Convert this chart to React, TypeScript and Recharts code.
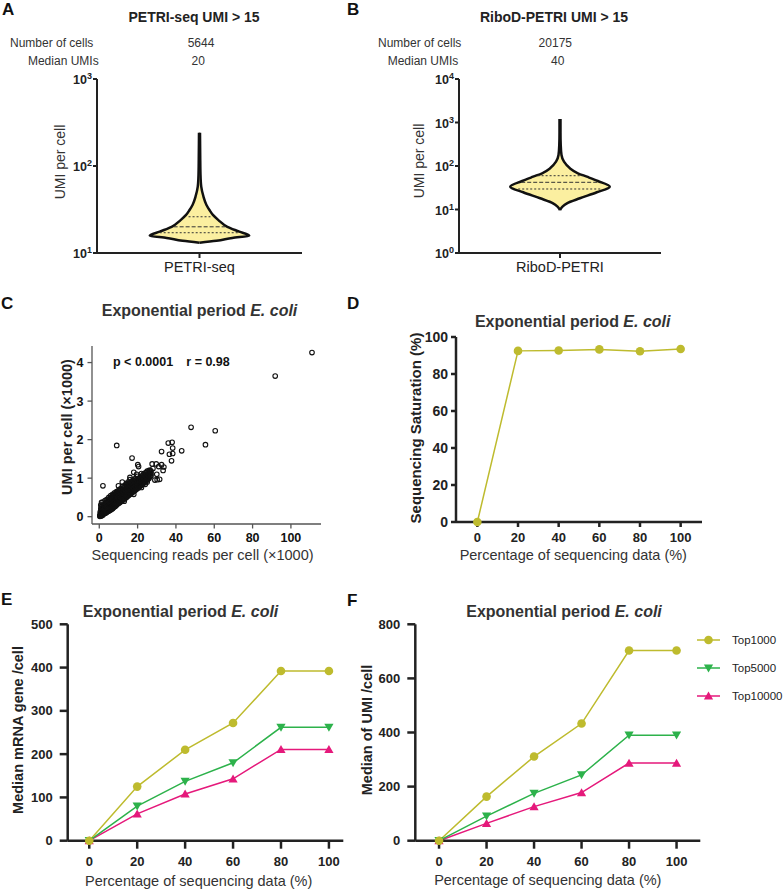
// App.tsx
// Six-panel figure: violins (A, B), scatter (C), saturation curve (D),
// gene / UMI medians vs subsampling (E, F)

import React from "react";
import {
  ComposedChart, Area, XAxis, YAxis, ReferenceLine,
  ScatterChart, Scatter, LineChart, Line, Legend,
} from "recharts";

const FONT = "'Liberation Sans', Arial, Helvetica, sans-serif";
const OLIVE = "#BEBB2E";
const GREEN = "#2DB24B";
const PINK = "#E5197B";
const VIOLIN_FILL = "#FBEFA0";

// ---- A: PETRI-seq violin (UMI per cell, relative density) ----
const petriUmi = [13.1, 13.8, 14.9, 15.8, 17.6, 20, 23.9, 27.4, 31.2, 35.6, 44.4, 57.8, 80, 120, 180, 241];
const petriDensity = [0, 0.34, 0.66, 1.0, 0.8, 0.56, 0.38, 0.27, 0.2, 0.14, 0.08, 0.035, 0.02, 0.015, 0.012, 0.01];
const petriQuartiles = [17.1, 20, 26.1];
const petriQuartileWidth = [0.8, 0.52, 0.22];

// ---- B: RiboD-PETRI violin ----
const ribodUmi = [9.7, 11.6, 13.9, 18.1, 24.9, 33.4, 45.2, 56.8, 68, 88.5, 125.6, 179, 300, 600, 1203];
const ribodDensity = [0, 0.05, 0.14, 0.4, 0.74, 1.0, 0.76, 0.54, 0.36, 0.2, 0.08, 0.03, 0.015, 0.01, 0.01];
const ribodQuartiles = [29.6, 42.2, 59.8];
const ribodQuartileWidth = [0.84, 0.78, 0.45];
const quartileDash = ["2 2", "4 2", "2 2"];

// ---- C: reads vs UMI per cell (both x1000) ----
const readsVsUmi: [number, number][] = [
  [0.3, 0.01], [0.3, 0.03], [0.6, 0.02], [0.6, 0.05], [0.6, 0.08], [0.5, 0.12], [0.8, 0.2], [0.8, 0.3],
  [1, 0.02], [1, 0.06], [1, 0.1], [1, 0.14], [1, 0.25], [1.2, 0.37],
  [1.25, 0.05], [1.25, 0.11], [1.5, 0.04], [1.5, 0.08], [1.5, 0.12], [1.5, 0.18], [1.5, 0.3],
  [1.75, 0.07], [1.75, 0.15], [1.75, 0.23],
  [2, 0.05], [2, 0.1], [2, 0.14], [2, 0.2], [2, 0.27], [2, 0.38],
  [2.25, 0.09], [2.25, 0.16], [2.25, 0.25],
  [2.5, 0.08], [2.5, 0.12], [2.5, 0.17], [2.5, 0.22], [2.5, 0.3],
  [2.75, 0.1], [2.75, 0.2], [2.75, 0.28],
  [3, 0.09], [3, 0.13], [3, 0.18], [3, 0.24], [3, 0.33], [3, 0.42],
  [3.25, 0.12], [3.25, 0.22], [3.25, 0.36],
  [3.5, 0.1], [3.5, 0.15], [3.5, 0.2], [3.5, 0.26], [3.5, 0.31],
  [3.75, 0.13], [3.75, 0.24], [3.75, 0.33],
  [4, 0.12], [4, 0.17], [4, 0.22], [4, 0.28], [4, 0.35], [4, 0.45],
  [4.25, 0.15], [4.25, 0.26], [4.25, 0.4],
  [4.5, 0.14], [4.5, 0.19], [4.5, 0.24], [4.5, 0.3], [4.5, 0.37],
  [4.75, 0.17], [4.75, 0.27], [4.75, 0.43],
  [5, 0.15], [5, 0.2], [5, 0.26], [5, 0.32], [5, 0.4], [5, 0.5],
  [5.25, 0.18], [5.25, 0.3], [5.25, 0.45],
  [5.5, 0.17], [5.5, 0.22], [5.5, 0.28], [5.5, 0.34], [5.5, 0.41],
  [5.75, 0.2], [5.75, 0.31], [5.75, 0.48],
  [6, 0.18], [6, 0.24], [6, 0.3], [6, 0.36], [6, 0.43], [6, 0.55],
  [6.25, 0.21], [6.25, 0.34], [6.25, 0.5],
  [6.5, 0.2], [6.5, 0.26], [6.5, 0.32], [6.5, 0.38], [6.5, 0.46],
  [6.75, 0.23], [6.75, 0.36], [6.75, 0.52],
  [7, 0.21], [7, 0.28], [7, 0.34], [7, 0.4], [7, 0.48], [7, 0.58],
  [7.25, 0.25], [7.25, 0.38], [7.25, 0.54],
  [7.5, 0.24], [7.5, 0.3], [7.5, 0.36], [7.5, 0.42], [7.5, 0.5],
  [7.75, 0.27], [7.75, 0.4], [7.75, 0.57],
  [8, 0.26], [8, 0.32], [8, 0.38], [8, 0.45], [8, 0.52], [8, 0.62],
  [8.25, 0.29], [8.25, 0.43], [8.25, 0.58],
  [8.5, 0.28], [8.5, 0.34], [8.5, 0.4], [8.5, 0.47], [8.5, 0.55],
  [8.75, 0.31], [8.75, 0.45], [8.75, 0.61],
  [9, 0.3], [9, 0.36], [9, 0.42], [9, 0.49], [9, 0.57], [9, 0.65],
  [9.25, 0.33], [9.25, 0.47], [9.25, 0.63],
  [9.5, 0.33], [9.5, 0.39], [9.5, 0.45], [9.5, 0.51], [9.5, 0.59],
  [9.75, 0.35], [9.75, 0.49], [9.75, 0.64],
  [10, 0.35], [10, 0.41], [10, 0.47], [10, 0.53], [10, 0.6], [10, 0.68],
  [10.5, 0.36], [10.5, 0.45], [10.5, 0.55], [10.5, 0.66],
  [11, 0.38], [11, 0.44], [11, 0.5], [11, 0.56], [11, 0.63], [11, 0.72],
  [11.5, 0.4], [11.5, 0.5], [11.5, 0.6], [11.5, 0.7],
  [12, 0.42], [12, 0.48], [12, 0.54], [12, 0.6], [12, 0.67], [12, 0.78],
  [12.5, 0.44], [12.5, 0.55], [12.5, 0.65], [12.5, 0.74],
  [13, 0.46], [13, 0.52], [13, 0.58], [13, 0.64], [13, 0.71], [13, 0.8],
  [13.5, 0.48], [13.5, 0.59], [13.5, 0.69], [13.5, 0.78],
  [14, 0.5], [14, 0.56], [14, 0.62], [14, 0.68], [14, 0.75], [14, 0.85],
  [14.5, 0.52], [14.5, 0.63], [14.5, 0.73], [14.5, 0.83],
  [15, 0.54], [15, 0.6], [15, 0.66], [15, 0.72], [15, 0.8], [15, 0.9],
  [15.5, 0.56], [15.5, 0.67], [15.5, 0.77], [15.5, 0.87],
  [16, 0.58], [16, 0.64], [16, 0.7], [16, 0.76], [16, 0.84], [16, 0.96],
  [16.5, 0.6], [16.5, 0.7], [16.5, 0.8], [16.5, 0.9],
  [17, 0.62], [17, 0.68], [17, 0.74], [17, 0.8], [17, 0.88],
  [17.5, 0.64], [17.5, 0.74], [17.5, 0.84], [17.5, 0.94],
  [18, 0.66], [18, 0.72], [18, 0.78], [18, 0.85], [18, 0.93],
  [18.5, 0.68], [18.5, 0.78], [18.5, 0.88], [18.5, 0.98],
  [19, 0.7], [19, 0.76], [19, 0.82], [19, 0.9], [19, 0.98],
  [19.5, 0.72], [19.5, 0.82], [19.5, 0.92],
  [20, 0.74], [20, 0.8], [20, 0.87], [20, 0.95], [20, 1.05],
  [20.5, 0.76], [20.5, 0.86], [20.5, 0.98],
  [21, 0.78], [21, 0.85], [21, 0.92], [21, 1.0],
  [21.5, 0.8], [21.5, 0.9], [21.5, 1.02],
  [22, 0.82], [22, 0.9], [22, 0.97], [22, 1.05], [22, 1.12],
  [22.5, 0.85], [22.5, 0.95], [22.5, 1.06],
  [23, 0.86], [23, 0.94], [23, 1.02], [23, 1.1],
  [23.5, 0.9], [23.5, 1.0], [23.5, 1.1],
  [24, 0.9], [24, 0.98], [24, 1.06], [24, 1.14],
  [24.5, 0.94], [24.5, 1.04], [24.5, 1.14],
  [25, 0.95], [25, 1.02], [25, 1.1], [25, 1.18],
  [25.5, 0.98], [25.5, 1.08], [25.5, 1.16],
  [26, 1.0], [26, 1.08], [26, 1.14], [26, 1.2],
  [26.5, 1.04], [26.5, 1.12], [26.5, 1.2],
  [27, 1.06], [27, 1.12], [27, 1.18],
  [13, 0.4], [18, 0.58], [22, 0.76], [24, 0.84], [25, 0.9], [10, 0.8], [12, 0.9],
  [16, 1.02], [18, 1.15], [19.5, 1.1], [29, 0.95], [30, 1.1], [31.5, 0.97], [28, 1.25], [20.5, 1.3],
  [1.9, 0.8], [9.1, 1.85], [17.1, 1.52], [20.1, 1.35], [27.6, 1.37], [29.7, 1.37], [32.5, 1.35],
  [33.7, 1.29], [33.3, 1.2], [31, 1.3], [30.2, 0.96], [32.5, 1.69], [36, 1.91], [38, 1.93],
  [38.3, 1.78], [36.6, 1.62], [38.3, 1.64], [37.7, 1.45], [43, 1.71], [47.9, 2.32], [55.4, 1.87],
  [60.5, 2.23], [91.8, 3.65], [111, 4.26],
];

// ---- D/E/F: subsampling percentage ----
const pctSteps = [0, 20, 40, 60, 80, 100];
const saturation = [0, 92.5, 92.7, 93.3, 92.3, 93.5];
const geneTop1000 = [0, 125, 210, 272, 392, 392];
const geneTop5000 = [0, 80, 137, 180, 262, 262];
const geneTop10000 = [0, 62, 108, 143, 211, 211];
const umiTop1000 = [0, 163, 311, 433, 703, 703];
const umiTop5000 = [0, 91, 175, 243, 390, 390];
const umiTop10000 = [0, 64, 126, 178, 287, 287];

const seriesNames = ["Top1000", "Top5000", "Top10000"];
const seriesColors = [OLIVE, GREEN, PINK];
const seriesMarks = ["circle", "down", "up"];

// ---------- small helpers ----------
function Txt({ x, y, size, bold, color = "#222", anchor = "start", rotate, children }: any) {
  const tx = anchor === "middle" ? "-50%" : anchor === "end" ? "-100%" : "0";
  return (
    <div
      style={{
        position: "absolute", left: x, top: y, fontSize: size, lineHeight: 1,
        fontFamily: FONT, fontWeight: bold ? 700 : 400, color, whiteSpace: "nowrap",
        transform: rotate ? "translate(-50%,-50%) rotate(-90deg)" : `translate(${tx},-50%)`,
      }}
    >
      {children}
    </div>
  );
}

function PowTick({ x, y, payload }: any) {
  const exp = Math.round(Math.log10(payload.value));
  return (
    <text x={x} y={y} textAnchor="end" fontFamily={FONT} fontWeight={700} fill="#222">
      <tspan fontSize={12.5} dy={5}>10</tspan>
      <tspan fontSize={9} dy={-5}>{exp}</tspan>
    </text>
  );
}

function Mark({ kind, x, y, color }: any) {
  if (kind === "circle") return <circle cx={x} cy={y} r={4.3} fill={color} />;
  if (kind === "down") return <path d={`M${x - 4.6},${y - 3.6}L${x + 4.6},${y - 3.6}L${x},${y + 4.4}Z`} fill={color} />;
  return <path d={`M${x - 4.6},${y + 3.6}L${x + 4.6},${y + 3.6}L${x},${y - 4.4}Z`} fill={color} />;
}

const markDot = (kind: string, color: string) => (p: any) =>
  p.cx == null ? <g key={p.index} /> : <Mark key={p.index} kind={kind} x={p.cx} y={p.cy} color={color} />;

const Ring = (p: any) => <circle cx={p.cx} cy={p.cy} r={2.3} fill="none" stroke="#111" strokeWidth={1.1} />;

const boldTick = { fontSize: 13, fontWeight: 700, fill: "#222", fontFamily: FONT };
const thickAxis = { stroke: "#222", strokeWidth: 2.5 };

function Violin({ umi, density, quartiles, widths, yDomain, yTicks, half, name, margin }: any) {
  const rows = umi.map((u: number, i: number) => ({ umi: u, band: [-density[i], density[i]] }));
  return (
    <ComposedChart width={392} height={290} layout="vertical" data={rows} margin={margin}>
      <XAxis
        type="number" domain={[-half, half]} ticks={[0]} tickFormatter={() => name}
        height={30} axisLine={{ stroke: "#222", strokeWidth: 2 }} tickLine={{ stroke: "#222", strokeWidth: 2 }}
        tickSize={5} tickMargin={4} tick={{ fontSize: 14.5, fill: "#222", fontFamily: FONT }}
      />
      <YAxis
        type="number" dataKey="umi" scale="log" domain={yDomain} ticks={yTicks} allowDataOverflow reversed
        width={40} axisLine={{ stroke: "#222", strokeWidth: 2 }} tickLine={{ stroke: "#222", strokeWidth: 2 }}
        tickSize={4} tickMargin={1} tick={<PowTick />}
      />
      <Area
        dataKey="band" type="monotone" fill={VIOLIN_FILL} fillOpacity={1}
        stroke="#111" strokeWidth={2.5} isAnimationActive={false} dot={false} activeDot={false}
      />
      {quartiles.map((q: number, i: number) => (
        <ReferenceLine
          key={q}
          segment={[{ x: -widths[i], y: q }, { x: widths[i], y: q }]}
          stroke="#333" strokeWidth={1} strokeDasharray={quartileDash[i]}
        />
      ))}
    </ComposedChart>
  );
}

function PanelTitle({ x, y }: any) {
  return (
    <Txt x={x} y={y} size={16} bold color="#333" anchor="middle">
      Exponential period <i>E. coli</i>
    </Txt>
  );
}

export default function App() {
  const pctRows = pctSteps.map((p, i) => ({
    pct: p,
    sat: saturation[i],
    g0: geneTop1000[i], g1: geneTop5000[i], g2: geneTop10000[i],
    u0: umiTop1000[i], u1: umiTop5000[i], u2: umiTop10000[i],
  }));
  const scatterRows = readsVsUmi.map(([x, y]) => ({ x, y }));

  const legendContent = () => (
    <svg width={90} height={84} style={{ overflow: "visible" }}>
      {seriesNames.map((n, i) => (
        <g key={n}>
          <line x1={2} x2={25} y1={12 + i * 28} y2={12 + i * 28} stroke={seriesColors[i]} strokeWidth={1.5} />
          <Mark kind={seriesMarks[i]} x={13.5} y={12 + i * 28} color={seriesColors[i]} />
          <text x={37} y={12 + i * 28 + 4.3} fontSize={11.5} fontFamily={FONT} fill="#222">{n}</text>
        </g>
      ))}
    </svg>
  );

  const linesFor = (prefix: string) =>
    [2, 1, 0].map((i) => (
      <Line
        key={prefix + i} dataKey={prefix + i} name={seriesNames[i]} stroke={seriesColors[i]}
        strokeWidth={1.5} isAnimationActive={false} dot={markDot(seriesMarks[i], seriesColors[i])}
        activeDot={false}
      />
    ));

  return (
    <div style={{ position: "absolute", left: 0, top: 0, width: 784, height: 889, background: "#fff", overflow: "hidden", fontFamily: FONT }}>
      {/* ---- A ---- */}
      <div style={{ position: "absolute", left: 0, top: 0 }}>
        <Violin
          umi={petriUmi} density={petriDensity} quartiles={petriQuartiles} widths={petriQuartileWidth}
          yDomain={[10, 1000]} yTicks={[10, 100, 1000]} half={2.06} name="PETRI-seq"
          margin={{ top: 79, right: 90, bottom: 7, left: 57 }}
        />
      </div>
      {/* ---- B ---- */}
      <div style={{ position: "absolute", left: 392, top: 0 }}>
        <Violin
          umi={ribodUmi} density={ribodDensity} quartiles={ribodQuartiles} widths={ribodQuartileWidth}
          yDomain={[1, 10000]} yTicks={[1, 10, 100, 1000, 10000]} half={2.03} name="RiboD-PETRI"
          margin={{ top: 79, right: 123, bottom: 7, left: 27 }}
        />
      </div>

      {/* ---- C ---- */}
      <div style={{ position: "absolute", left: 0, top: 290 }}>
        <ScatterChart width={392} height={290} margin={{ top: 56, right: 71, bottom: 16, left: 52 }}>
          <XAxis
            type="number" dataKey="x" domain={[-3.8, 115.7]} ticks={[0, 20, 40, 60, 80, 100]} allowDataOverflow
            height={40} axisLine={{ stroke: "#555", strokeWidth: 1.3 }} tickLine={{ stroke: "#555", strokeWidth: 1.3 }}
            tickSize={4.5} tickMargin={5} tick={{ ...boldTick, fontSize: 12.5, fill: "#111" }}
          />
          <YAxis
            type="number" dataKey="y" domain={[-0.19, 4.43]} ticks={[0, 1, 2, 3, 4]} allowDataOverflow
            width={40} axisLine={{ stroke: "#555", strokeWidth: 1.3 }} tickLine={{ stroke: "#555", strokeWidth: 1.3 }}
            tickSize={4.5} tickMargin={4} tick={{ ...boldTick, fontSize: 12.5, fill: "#111" }}
          />
          <XAxis xAxisId="top" orientation="top" type="number" domain={[0, 1]} height={0} tick={false} tickLine={false} axisLine={{ stroke: "#555", strokeWidth: 1.3 }} />
          <YAxis yAxisId="right" orientation="right" type="number" domain={[0, 1]} width={0} tick={false} tickLine={false} axisLine={{ stroke: "#555", strokeWidth: 1.3 }} />
          <Scatter data={scatterRows} shape={Ring} isAnimationActive={false} />
        </ScatterChart>
      </div>

      {/* ---- D ---- */}
      <div style={{ position: "absolute", left: 392, top: 290 }}>
        <LineChart width={392} height={290} data={pctRows} margin={{ top: 47, right: 82, bottom: 18, left: 14 }}>
          <XAxis
            type="number" dataKey="pct" domain={[-10.5, 110.5]} ticks={pctSteps} allowDataOverflow height={40}
            axisLine={thickAxis} tickLine={thickAxis} tickSize={5} tickMargin={6} tick={boldTick}
          />
          <YAxis
            type="number" domain={[0, 100]} ticks={[0, 20, 40, 60, 80, 100]} width={50}
            axisLine={thickAxis} tickLine={thickAxis} tickSize={5} tickMargin={3} tick={{ ...boldTick, fontSize: 14 }}
          />
          <Line dataKey="sat" stroke={OLIVE} strokeWidth={1.5} isAnimationActive={false} dot={markDot("circle", OLIVE)} activeDot={false} />
        </LineChart>
      </div>

      {/* ---- E ---- */}
      <div style={{ position: "absolute", left: 0, top: 580 }}>
        <LineChart width={350} height={309} data={pctRows} margin={{ top: 44.3, right: 6.7, bottom: 8.3, left: 17.7 }}>
          <XAxis
            type="number" dataKey="pct" domain={[-9, 106]} ticks={pctSteps} allowDataOverflow height={40}
            axisLine={thickAxis} tickLine={thickAxis} tickSize={8} tickMargin={8} tick={boldTick}
          />
          <YAxis
            type="number" domain={[0, 500]} ticks={[0, 100, 200, 300, 400, 500]} width={50}
            axisLine={thickAxis} tickLine={thickAxis} tickSize={8} tickMargin={7} tick={boldTick}
          />
          {linesFor("g")}
        </LineChart>
      </div>

      {/* ---- F ---- */}
      <div style={{ position: "absolute", left: 350, top: 580 }}>
        <LineChart width={434} height={309} data={pctRows} margin={{ top: 44.3, right: 83.7, bottom: 8.3, left: 15.3 }}>
          <XAxis
            type="number" dataKey="pct" domain={[-10, 110]} ticks={pctSteps} allowDataOverflow height={40}
            axisLine={thickAxis} tickLine={thickAxis} tickSize={8} tickMargin={8} tick={boldTick}
          />
          <YAxis
            type="number" domain={[0, 800]} ticks={[0, 200, 400, 600, 800]} width={50}
            axisLine={thickAxis} tickLine={thickAxis} tickSize={8} tickMargin={7} tick={boldTick}
          />
          <Legend
            layout="vertical" align="center" verticalAlign="middle" content={legendContent}
            wrapperStyle={{ left: 345, top: 48, width: 90, height: 84 }}
          />
          {linesFor("u")}
        </LineChart>
      </div>

      {/* ---- text overlays ---- */}
      <Txt x={2} y={9.2} size={17} bold color="#111">A</Txt>
      <Txt x={347} y={9.4} size={17} bold color="#111">B</Txt>
      <Txt x={1} y={302.5} size={17} bold color="#111">C</Txt>
      <Txt x={347} y={303} size={17} bold color="#111">D</Txt>
      <Txt x={1} y={599} size={17} bold color="#111">E</Txt>
      <Txt x={347} y={600} size={17} bold color="#111">F</Txt>

      <Txt x={194} y={17} size={14} bold anchor="middle">PETRI-seq UMI &gt; 15</Txt>
      <Txt x={51.7} y={43} size={12} color="#333" anchor="middle">Number of cells</Txt>
      <Txt x={63.3} y={61} size={12} color="#333" anchor="middle">Median UMIs</Txt>
      <Txt x={201} y={43} size={12} color="#333" anchor="middle">5644</Txt>
      <Txt x={198.3} y={61} size={12} color="#333" anchor="middle">20</Txt>
      <Txt x={60} y={162} size={14} color="#333" rotate>UMI per cell</Txt>

      <Txt x={554} y={17} size={14} bold anchor="middle">RiboD-PETRI UMI &gt; 15</Txt>
      <Txt x={419.7} y={43} size={12} color="#333" anchor="middle">Number of cells</Txt>
      <Txt x={423} y={61} size={12} color="#333" anchor="middle">Median UMIs</Txt>
      <Txt x={555.3} y={43} size={12} color="#333" anchor="middle">20175</Txt>
      <Txt x={557.7} y={61} size={12} color="#333" anchor="middle">40</Txt>
      <Txt x={418.7} y={161} size={14} color="#333" rotate>UMI per cell</Txt>

      <PanelTitle x={199.5} y={311} />
      <Txt x={113} y={361.7} size={12.5} bold color="#111">p &lt; 0.0001</Txt>
      <Txt x={186.3} y={361.7} size={12.5} bold color="#111">r = 0.98</Txt>
      <Txt x={67} y={427} size={14.5} bold color="#222" rotate>UMI per cell (×1000)</Txt>
      <Txt x={202.5} y={555} size={14.5} color="#333" anchor="middle">Sequencing reads per cell (×1000)</Txt>

      <PanelTitle x={572.7} y={322} />
      <Txt x={415.3} y={428} size={15} bold color="#222" rotate>Sequencing Saturation (%)</Txt>
      <Txt x={573.3} y={555} size={14.5} color="#333" anchor="middle">Percentage of sequencing data (%)</Txt>

      <PanelTitle x={180.5} y={612} />
      <Txt x={18.3} y={730} size={14.5} bold color="#222" rotate>Median mRNA gene /cell</Txt>
      <Txt x={198.7} y={881} size={14.5} color="#333" anchor="middle">Percentage of sequencing data (%)</Txt>

      <PanelTitle x={564} y={612} />
      <Txt x={367} y={730} size={14.5} bold color="#222" rotate>Median of UMI /cell</Txt>
      <Txt x={547.8} y={880} size={14.5} color="#333" anchor="middle">Percentage of sequencing data (%)</Txt>
    </div>
  );
}
